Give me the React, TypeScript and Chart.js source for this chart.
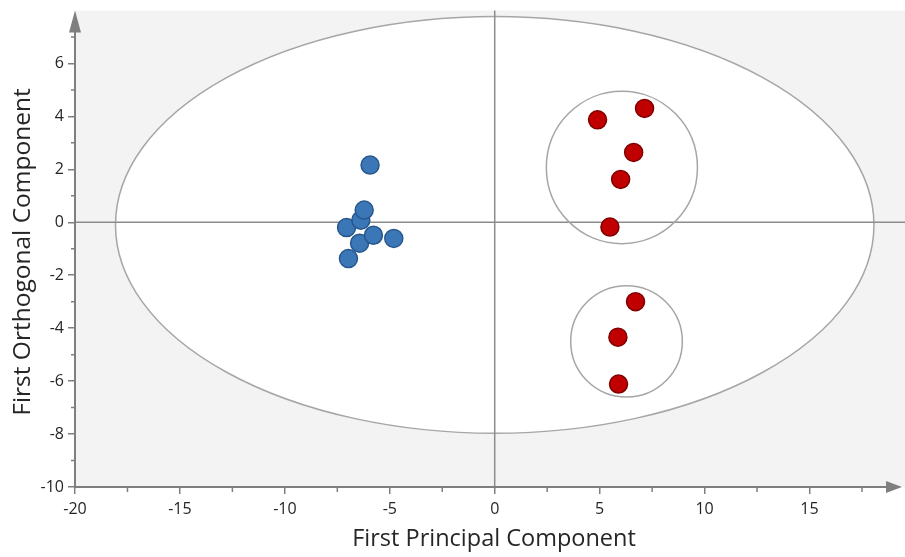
import React, { useEffect, useRef } from "react";
import { Chart, registerables } from "chart.js";

Chart.register(...registerables);

// Score values (t[1] on x, to[1] on y)
const groupAX = [-5.94, -7.06, -6.38, -6.22, -6.44, -5.78, -4.81, -6.97];
const groupAY = [2.16, -0.2, 0.08, 0.46, -0.79, -0.49, -0.61, -1.37];
const groupBX = [7.14, 4.9, 6.62, 6.0, 5.49, 6.71, 5.87, 5.9];
const groupBY = [4.3, 3.87, 2.64, 1.62, -0.18, -3.0, -4.34, -6.11];

// Ellipses: [centerX, centerY, radiusX, radiusY] in data units
const hotellingEllipse = [0, -0.1, 18.07, 7.87];
const clusterCircles = [
  [6.06, 2.07, 3.6, 2.88],
  [6.28, -4.5, 2.66, 2.1],
];

const X_MIN = -20;
const X_MAX = 19.05;
const Y_MIN = -10;
const Y_MAX = 8;
const X_MINOR = [-17.5, -12.5, -7.5, -2.5, 2.5, 7.5, 12.5, 17.5];
const Y_MINOR = [-9, -7, -5, -3, -1, 1, 3, 5, 7];

const X_TITLE = "First Principal Component";
const Y_TITLE = "First Orthogonal Component";

const FONT = '"Open Sans", "Noto Sans", sans-serif';
const AXIS_GRAY = "#7f7f7f";

function toPoints(xs: number[], ys: number[]) {
  return xs.map((x, i) => ({ x, y: ys[i] }));
}

function drawEllipse(ctx: CanvasRenderingContext2D, chart: any, e: number[], fill?: string) {
  const { x, y } = chart.scales;
  const cx = x.getPixelForValue(e[0]);
  const cy = y.getPixelForValue(e[1]);
  const rx = Math.abs(x.getPixelForValue(e[0] + e[2]) - cx);
  const ry = Math.abs(y.getPixelForValue(e[1] + e[3]) - cy);
  ctx.beginPath();
  ctx.ellipse(cx, cy, rx, ry, 0, 0, Math.PI * 2);
  if (fill) {
    ctx.fillStyle = fill;
    ctx.fill();
  }
  ctx.strokeStyle = "#a6a6a6";
  ctx.lineWidth = 1.5;
  ctx.stroke();
}

const decorPlugin = {
  id: "decor",
  beforeDatasetsDraw(chart: any) {
    const { ctx, chartArea: a, scales } = chart;
    const { x, y } = scales;
    // plot panel runs to the canvas edge
    const right = chart.width;
    ctx.save();
    ctx.fillStyle = "#f3f3f3";
    ctx.fillRect(a.left, a.top, right - a.left, a.bottom - a.top);

    drawEllipse(ctx, chart, hotellingEllipse, "#ffffff");

    // zero lines
    const x0 = x.getPixelForValue(0);
    const y0 = y.getPixelForValue(0);
    ctx.strokeStyle = "#8c8c8c";
    ctx.lineWidth = 1.5;
    ctx.beginPath();
    ctx.moveTo(x0, a.top);
    ctx.lineTo(x0, a.bottom);
    ctx.moveTo(a.left, y0);
    ctx.lineTo(right, y0);
    ctx.stroke();

    clusterCircles.forEach((c) => drawEllipse(ctx, chart, c));

    // axis lines with arrows
    ctx.strokeStyle = AXIS_GRAY;
    ctx.fillStyle = AXIS_GRAY;
    ctx.lineWidth = 2;
    ctx.beginPath();
    ctx.moveTo(a.left, a.bottom);
    ctx.lineTo(a.left, a.top + 20);
    ctx.moveTo(a.left, a.bottom);
    ctx.lineTo(right - 16, a.bottom);
    ctx.stroke();
    ctx.beginPath();
    ctx.moveTo(a.left, a.top);
    ctx.lineTo(a.left - 6, a.top + 22);
    ctx.lineTo(a.left + 6, a.top + 22);
    ctx.closePath();
    ctx.fill();
    ctx.beginPath();
    ctx.moveTo(right - 3, a.bottom);
    ctx.lineTo(right - 19, a.bottom - 6);
    ctx.lineTo(right - 19, a.bottom + 6);
    ctx.closePath();
    ctx.fill();

    // minor ticks
    ctx.lineWidth = 1.5;
    ctx.beginPath();
    X_MINOR.forEach((v) => {
      const px = x.getPixelForValue(v);
      ctx.moveTo(px, a.bottom);
      ctx.lineTo(px, a.bottom + 5);
    });
    Y_MINOR.forEach((v) => {
      const py = y.getPixelForValue(v);
      ctx.moveTo(a.left, py);
      ctx.lineTo(a.left - 4, py);
    });
    ctx.stroke();
    ctx.restore();
  },
  afterDraw(chart: any) {
    const { ctx } = chart;
    ctx.save();
    ctx.fillStyle = "#262626";
    ctx.textAlign = "center";
    ctx.textBaseline = "middle";
    ctx.font = `23.5px ${FONT}`;
    ctx.fillText(X_TITLE, 494, 539);
    ctx.font = `24.5px ${FONT}`;
    ctx.translate(23, 252);
    ctx.rotate(-Math.PI / 2);
    ctx.fillText(Y_TITLE, 0, 0);
    ctx.restore();
  },
};

export default function App() {
  const ref = useRef<HTMLCanvasElement>(null);

  useEffect(() => {
    if (!ref.current) return;
    const chart = new Chart(ref.current, {
      type: "scatter",
      data: {
        datasets: [
          {
            data: toPoints(groupAX, groupAY),
            backgroundColor: "#3b76b6",
            borderColor: "#27578c",
            borderWidth: 1.5,
            pointRadius: 9,
          },
          {
            data: toPoints(groupBX, groupBY),
            backgroundColor: "#c00000",
            borderColor: "#7f0000",
            borderWidth: 1.5,
            pointRadius: 9,
          },
        ],
      },
      options: {
        responsive: false,
        animation: false,
        devicePixelRatio: 1,
        layout: { padding: { top: 8, right: 0, left: 0, bottom: 0 } },
        plugins: { legend: { display: false }, tooltip: { enabled: false } },
        scales: {
          x: {
            type: "linear",
            min: X_MIN,
            max: X_MAX,
            afterFit: (s: any) => {
              s.height = 70;
              s.paddingLeft = 0;
              s.paddingRight = 0;
            },
            border: { display: false },
            grid: {
              drawOnChartArea: false,
              drawTicks: true,
              tickLength: 7,
              color: AXIS_GRAY,
              lineWidth: 1.5,
            },
            ticks: {
              stepSize: 5,
              padding: 6,
              color: "#262626",
              font: { family: FONT, size: 16 },
              callback: (v: any) =>
                Number.isInteger(Number(v) / 5) && Number(v) <= 15 ? String(v) : null,
            },
          },
          y: {
            type: "linear",
            min: Y_MIN,
            max: Y_MAX,
            afterFit: (s: any) => {
              s.width = 75;
              s.paddingTop = 0;
              s.paddingBottom = 0;
            },
            border: { display: false },
            grid: {
              drawOnChartArea: false,
              drawTicks: true,
              tickLength: 7,
              color: AXIS_GRAY,
              lineWidth: 1.5,
            },
            ticks: {
              stepSize: 2,
              padding: 4,
              color: "#262626",
              font: { family: FONT, size: 16 },
              callback: (v: any) => (Number(v) === Y_MAX ? null : String(v)),
            },
          },
        },
      },
      plugins: [decorPlugin],
    } as any);
    return () => chart.destroy();
  }, []);

  return (
    <div style={{ position: "fixed", left: 0, top: 0, width: 905, height: 557, background: "#fff" }}>
      <canvas ref={ref} width={905} height={557} style={{ width: 905, height: 557 }} />
    </div>
  );
}
